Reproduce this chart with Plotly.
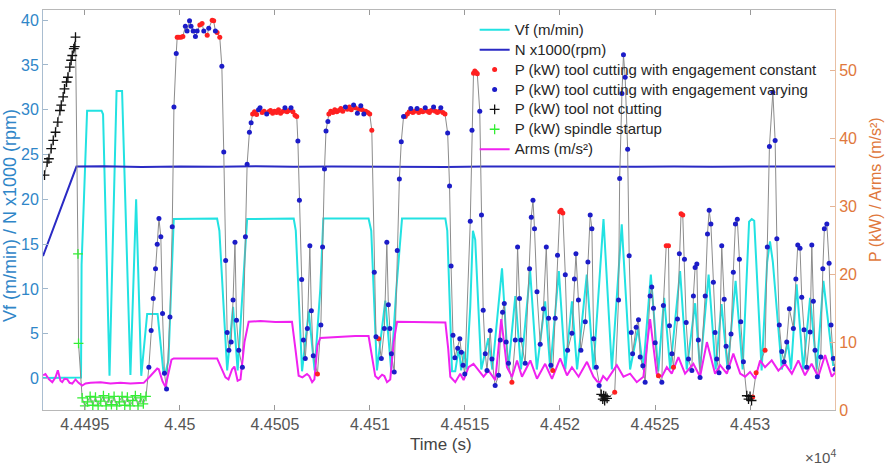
import plotly.graph_objects as go

T0 = 44490.0  # time origin (s); all times below are seconds after T0

x_tick_vals = [44495, 44500, 44505, 44510, 44515, 44520, 44525, 44530]
x_tick_text = ["4.4495", "4.45", "4.4505", "4.451", "4.4515", "4.452", "4.4525", "4.453"]
left_ticks = [0, 5, 10, 15, 20, 25, 30, 35, 40]
right_ticks = [0, 10, 20, 30, 40, 50]

# Spindle speed N x1000 (rpm)
n_t = [2.80, 4.56, 6.0, 8.0, 10.0, 12.0, 14.0, 16.0, 18.0, 20.0, 22.0, 24.0, 26.0, 28.0,
       30.0, 32.0, 34.0, 36.0, 38.0, 40.0, 42.0, 44.47]
n_v = [13.67, 23.66, 23.7, 23.62, 23.68, 23.64, 23.7, 23.63, 23.67, 23.65, 23.7, 23.62, 23.68,
       23.66, 23.64, 23.7, 23.65, 23.68, 23.63, 23.67, 23.65, 23.66]

# Feed rate Vf (m/min)
vf_t = [2.80, 4.77, 4.80, 4.83, 5.12, 5.88, 5.96, 6.30, 6.67, 6.96, 7.40, 7.70, 7.97, 8.28, 8.83,
        9.15, 9.24, 9.40, 9.68, 11.96, 12.08, 12.49, 12.80, 13.04, 13.24, 13.54, 15.99, 16.10,
        16.43, 16.78, 17.09, 17.39, 17.55, 19.93, 20.07, 20.37, 20.81, 21.12, 21.39, 21.69, 23.97,
        24.07, 24.32, 24.49, 24.68, 24.80, 24.96, 25.09, 25.28, 25.42, 25.54, 25.70, 25.86, 26.23,
        26.44, 26.95, 27.28, 27.65, 27.95, 28.43, 28.78, 29.22, 29.49, 29.94, 30.28, 30.63, 30.90,
        31.41, 31.76, 32.29, 32.73, 33.25, 33.69, 34.11, 34.38, 34.78, 35.17, 35.48, 35.80, 36.32,
        36.67, 37.11, 37.37, 37.82, 38.19, 38.50, 38.82, 39.24, 39.61, 39.95, 40.09, 40.22, 40.61,
        40.90, 41.05, 41.20, 41.67, 41.99, 42.16, 42.45, 42.80, 43.16, 43.51, 43.86, 44.37, 44.47]
vf_v = [0.05, 0.05, 0.1, 12.7, 29.9, 29.9, 29.5, 0.3, 32.1, 32.1, 0.4, 20.0, 0.3, 7.2, 7.2,
        0.4, 0.6, 2.0, 17.8, 17.85, 16.5, 0.9, 8.0, 0.9, 8.0, 17.8, 17.85, 16.5,
        0.8, 7.5, 0.9, 10.0, 17.85, 17.85, 16.5, 0.9, 8.7, 0.9, 10.0, 17.85, 17.85,
        16.5, 0.8, 0.8, 3.5, 0.9, 3.0, 1.0, 8.0, 16.5, 15.5, 8.0, 1.0, 4.5,
        1.0, 12.3, 1.0, 9.2, 1.0, 12.0, 1.0, 8.6, 1.0, 12.0, 1.0, 8.6, 1.0,
        11.6, 1.0, 17.8, 1.0, 17.2, 1.0, 5.6, 1.0, 11.6, 0.8, 9.0, 1.0, 12.0,
        1.0, 8.4, 1.0, 11.6, 1.0, 8.3, 1.0, 10.9, 1.0, 17.5, 17.8, 17.6, 0.9,
        13.0, 15.3, 13.0, 1.0, 4.0, 1.0, 10.5, 1.0, 9.0, 1.0, 10.9, 1.5, 1.5]

# Vibration Arms (m/s^2)
arms_t = [2.81, 2.93, 3.09, 3.29, 3.46, 3.58, 3.72, 3.81, 3.93, 4.07, 4.20, 4.34, 4.51, 4.67, 4.86,
          5.04, 5.30, 5.83, 6.35, 6.88, 7.40, 7.93, 8.10, 8.45, 8.81, 8.89, 9.09, 9.24, 9.40, 9.56,
          9.68, 10.56, 11.35, 11.96, 12.19, 12.40, 12.56, 12.75, 12.87, 13.04, 13.19, 13.40, 13.62,
          14.24, 15.03, 15.90, 16.08, 16.25, 16.45, 16.69, 16.81, 16.96, 17.08, 17.24, 17.39, 18.44,
          19.23, 19.93, 20.12, 20.28, 20.44, 20.64, 20.76, 20.90, 21.07, 21.25, 21.43, 22.65, 23.97,
          24.12, 24.23, 24.49, 24.75, 24.93, 25.19, 25.45, 25.72, 25.98, 26.24, 26.60, 26.91, 27.21,
          27.48, 27.74, 28.00, 28.44, 28.79, 29.22, 29.58, 30.01, 30.37, 30.63, 30.98, 31.42, 31.76,
          31.96, 32.12, 32.27, 32.47, 32.99, 33.34, 33.69, 34.04, 34.39, 34.74, 35.09, 35.36, 35.62,
          35.88, 36.23, 36.58, 37.02, 37.37, 37.73, 38.16, 38.43, 38.78, 39.12, 39.48, 39.74, 40.00,
          40.27, 40.53, 40.79, 41.14, 41.49, 41.84, 42.20, 42.54, 42.89, 43.24, 43.59, 43.95, 44.30,
          44.47]
arms_v = [5.1, 5.3, 4.6, 4.1, 4.8, 5.85, 4.3, 4.1, 4.6, 4.55, 4.0, 3.9, 4.5, 4.0, 3.6,
          3.9, 4.0, 4.1, 3.9, 4.0, 3.9, 4.0, 4.0, 5.0, 6.1, 6.0, 4.2, 3.4, 5.5, 7.4,
          7.6, 7.65, 7.6, 7.6, 6.0, 4.8, 4.5, 6.0, 6.4, 4.3, 4.5, 10.0, 13.0,
          13.1, 12.95, 13.0, 9.0, 5.05, 4.8, 5.3, 5.0, 4.1, 4.5, 9.5, 10.6, 10.8,
          10.9, 10.9, 8.0, 5.0, 4.6, 5.2, 5.0, 4.1, 4.5, 10.0, 13.0, 13.0, 12.9,
          9.0, 4.9, 4.1, 5.35, 4.4, 6.3, 6.8, 5.8, 4.9, 5.8, 4.4, 13.4, 6.3,
          4.9, 7.3, 4.9, 7.3, 4.6, 6.8, 4.6, 7.6, 5.1, 6.3, 4.9, 7.1, 4.9,
          4.2, 4.1, 5.0, 4.4, 6.6, 4.9, 5.35, 4.1, 4.9, 13.4, 5.35, 4.9, 6.3,
          5.35, 7.8, 5.35, 6.8, 4.9, 10.0, 5.35, 6.6, 5.35, 8.3, 5.35, 4.9, 5.6,
          4.6, 7.3, 6.3, 7.3, 5.8, 6.8, 5.35, 7.3, 5.1, 6.8, 4.9, 8.1, 4.9,
          5.5]

# P (kW): tool not cutting
pk_t = [2.88, 3.02, 3.11, 3.23, 3.34, 3.46, 3.58, 3.69, 3.76, 3.86, 3.93, 4.04, 4.11, 4.21, 4.28,
        4.34, 4.42, 4.47, 4.51, 32.17, 32.25, 32.30, 32.35, 32.41, 32.48, 39.83, 39.92, 40.00, 40.08]
pk_v = [34.6, 36.5, 37.0, 38.5, 39.7, 40.9, 42.4, 44.1, 44.9, 46.1, 47.3, 48.3, 49.0, 50.5, 51.5,
        52.2, 53.2, 53.5, 54.9, 2.3, 1.6, 2.1, 1.4, 2.0, 1.7, 2.1, 1.6, 2.0, 1.4]

# P (kW): spindle startup
pg_t = [4.64, 4.67, 4.86, 5.00, 5.14, 5.28, 5.42, 5.56, 5.70, 5.84, 5.98, 6.12, 6.26, 6.40, 6.54,
        6.68, 6.82, 6.96, 7.10, 7.24, 7.38, 7.52, 7.66, 7.80, 7.94, 8.08, 8.22]
pg_v = [23.0, 9.8, 1.8, 0.6, 1.2, 2.0, 0.7, 1.9, 0.6, 1.3, 2.1, 0.6, 1.8, 0.8, 2.0,
        0.6, 1.2, 2.0, 0.7, 1.9, 0.6, 1.4, 2.1, 0.6, 1.8, 0.9, 2.0]

# P (kW): tool cutting, engagement constant
pr_t = [9.86, 9.95, 10.06, 10.16, 11.05, 11.17, 11.44, 11.70, 11.78, 11.96, 12.10,
        13.83, 13.93, 14.04, 14.33, 14.43, 14.67, 14.77, 14.88, 14.98, 15.09, 15.19, 15.30, 15.43,
        15.64, 15.74, 15.95, 16.06, 16.15, 17.24,
        17.84, 17.94, 18.05, 18.15, 18.26, 18.36, 18.47, 18.57, 18.81, 18.92, 19.02, 19.23, 19.44,
        19.60, 19.78, 19.89, 19.99, 20.10, 20.46,
        21.86, 21.97, 22.07, 22.26, 22.36, 22.57, 22.68, 22.78, 23.02, 23.13, 23.23, 23.44, 23.55,
        23.65, 23.84, 23.95,
        25.45, 25.52, 25.59, 25.65, 27.47, 29.62, 29.99, 30.06, 30.15, 32.88, 35.18, 35.59, 35.71,
        35.97, 36.37, 36.46, 40.14, 40.32, 40.79]
pr_v = [54.9, 54.9, 54.9, 55.0, 56.7, 56.9, 55.2, 57.4, 57.3, 55.6, 54.9,
        43.6, 43.9, 43.5, 43.8, 44.0, 43.9, 44.1, 43.7, 44.0, 43.8, 44.2, 43.7, 44.0,
        43.9, 44.1, 43.9, 43.4, 43.2, 5.3,
        43.6, 44.0, 43.8, 44.2, 43.9, 44.1, 44.4, 44.0, 44.3, 44.6, 44.2, 44.5, 44.3,
        44.2, 44.0, 43.8, 43.6, 41.2, 10.5,
        43.2, 43.6, 43.9, 43.8, 44.0, 43.8, 44.1, 43.9, 44.0, 43.8, 44.1, 44.0, 43.8,
        44.0, 43.8, 43.6,
        49.6, 49.9, 49.7, 49.5, 4.1, 5.8, 29.2, 29.4, 29.0, 2.6, 5.05, 24.2, 24.2,
        6.3, 28.9, 28.7, 1.9, 5.5, 8.8]

# P (kW): tool cutting, engagement varying
pb_t = [8.37, 8.49, 8.60, 8.72, 8.81, 8.90, 9.00, 9.09, 9.19, 9.30, 9.48, 9.60, 9.69, 9.81,
        10.29, 10.38, 10.51, 10.59, 10.70, 10.82, 10.91, 11.26, 11.52, 11.87,
        12.21, 12.31, 12.41, 12.49, 12.58, 12.70, 12.80, 12.90, 12.98, 13.10, 13.29, 13.45, 13.54,
        13.66, 13.75, 14.14, 14.22, 14.57, 15.53, 15.85,
        16.21, 16.29, 16.41, 16.50, 16.60, 16.71, 16.84, 16.92, 17.02, 17.42, 17.51, 17.61, 17.69,
        17.79, 18.71, 19.14, 19.34, 19.52, 19.68,
        20.23, 20.32, 20.60, 20.76, 20.89, 20.97, 21.05, 21.13, 21.28, 21.44, 21.55, 21.65, 21.77,
        22.15, 22.48, 22.91, 23.35, 23.73,
        24.09, 24.19, 24.27, 24.37, 24.47, 24.62, 24.73, 24.81, 24.90, 24.99, 25.28, 25.37, 25.78,
        25.87, 25.96, 26.07, 26.16, 26.33, 26.42, 26.59, 26.77, 26.86, 26.98, 27.07, 27.17, 27.29,
        27.65, 27.77, 27.87, 27.95, 28.17, 28.40, 28.49, 28.58, 28.66, 28.79, 28.96, 29.13, 29.28,
        29.40, 29.52, 29.75, 29.87, 30.28, 30.40, 30.63, 30.76, 30.84, 30.97, 31.10, 31.33, 31.47,
        31.59, 31.68, 31.77, 31.91, 32.06,
        33.08, 33.14, 33.26, 33.34, 33.43, 33.56, 33.64, 33.75, 33.82, 34.01, 34.13, 34.22, 34.36,
        34.48, 34.74, 34.83, 34.92, 35.01, 35.36, 35.44, 35.76, 35.89, 36.18, 36.28, 36.55, 36.64,
        36.76, 36.94, 37.02, 37.11, 37.20, 37.28, 37.37, 37.64, 37.76, 37.85, 37.94, 38.07, 38.16,
        38.25, 38.37, 38.51, 38.64, 38.74, 38.86, 39.00, 39.12, 39.23, 39.33, 39.44, 39.51, 39.65,
        40.91, 41.02, 41.20, 41.32, 41.41, 41.54, 41.67, 41.79, 41.93, 42.07, 42.28, 42.41, 42.51,
        42.63, 42.72, 42.84, 42.98, 43.16, 43.25, 43.33, 43.42, 43.54, 43.72, 43.83, 43.91, 44.04,
        44.16, 44.26, 44.38, 44.47]
pb_v = [6.3, 11.7, 16.4, 20.8, 24.4, 28.2, 25.5, 14.2, 5.4, 3.1, 13.7, 27.0, 44.6, 52.5,
        56.5, 55.8, 57.3, 56.5, 55.8, 55.0, 55.8, 55.8, 56.2, 55.8,
        50.6, 38.0, 22.0, 11.4, 8.8, 10.0, 16.2, 24.7, 13.2, 8.8, 6.3, 25.5, 36.2,
        40.9, 42.3, 44.2, 44.5, 43.6, 44.5, 44.5,
        39.6, 30.9, 19.2, 10.3, 7.6, 12.0, 24.2, 14.6, 8.0, 12.5, 24.0, 35.5, 41.1,
        42.5, 44.6, 44.9, 43.7, 44.8, 43.6,
        20.3, 10.8, 7.6, 12.0, 24.7, 15.5, 12.0, 8.3, 5.6, 23.5, 34.0, 39.5, 43.2,
        44.4, 44.4, 44.5, 44.6, 44.5,
        40.8, 33.0, 21.2, 11.0, 7.7, 9.1, 10.5, 8.5, 6.6, 5.3, 27.8, 41.2, 44.0,
        28.7, 14.7, 8.3, 5.8, 11.7, 7.5, 3.6, 5.1, 10.3, 14.4, 15.7, 10.0, 6.9,
        10.3, 24.0, 16.4, 10.3, 6.9, 20.8, 28.4, 30.9, 26.7, 17.4, 9.7, 14.9, 24.0,
        13.5, 6.6, 13.5, 22.8, 19.9, 8.8, 11.3, 19.3, 23.0, 16.2, 8.8, 13.0, 21.8,
        28.7, 26.7, 10.5, 6.3, 3.6,
        16.2, 34.1, 46.6, 52.3, 49.0, 38.4, 22.7, 11.4, 8.3, 12.2, 13.3, 7.8, 6.5,
        4.1, 16.8, 18.1, 15.0, 9.9, 4.1, 15.4, 12.4, 8.3, 13.4, 23.0, 22.2, 12.9,
        7.5, 5.8, 16.8, 21.0, 21.5, 10.3, 4.8, 16.8, 25.9, 29.4, 27.4, 18.8, 11.4,
        7.5, 5.5, 24.2, 16.3, 9.4, 6.3, 11.2, 20.3, 27.4, 28.1, 22.2, 13.0, 7.1,
        24.0, 38.8, 46.8, 39.7, 25.2, 12.5, 8.6, 7.1, 10.0, 14.9, 12.0, 19.3, 24.3,
        23.8, 16.6, 11.8, 6.3, 11.5, 24.3, 16.0, 8.8, 4.9, 7.8, 20.8, 26.7, 27.4,
        21.6, 12.5, 7.6, 6.0]

# Continuous P signal through all samples (time-ordered)
p_all = sorted(list(zip(pk_t, pk_v)) + list(zip(pg_t, pg_v)) +
               list(zip(pr_t, pr_v)) + list(zip(pb_t, pb_v)))

legend_names = ["Vf (m/min)", "N x1000(rpm)",
                "P (kW) tool cutting with engagement constant",
                "P (kW) tool cutting with engagement varying",
                "P (kW) tool not cutting", "P (kW) spindle startup", "Arms (m/s²)"]


def abs_t(ts):
    return [T0 + t for t in ts]


def lname(i):
    # legend row height follows legend font size (13); text drawn slightly larger
    return '<span style="font-size:15px">' + legend_names[i] + '</span>'


LEFT_COL = "#2f86c8"
RIGHT_COL = "#e0783c"
FONT = "Liberation Sans, Arial, sans-serif"

fig = go.Figure()
fig.add_trace(go.Scatter(x=abs_t(vf_t), y=vf_v, mode="lines", name=lname(0),
                         line=dict(color="#22e2e2", width=2), yaxis="y", legendrank=1))
fig.add_trace(go.Scatter(x=abs_t(n_t), y=n_v, mode="lines", name=lname(1),
                         line=dict(color="#2a2ac4", width=2), yaxis="y", legendrank=2))
fig.add_trace(go.Scatter(x=abs_t([p[0] for p in p_all]), y=[p[1] for p in p_all],
                         mode="lines", line=dict(color="#8c8c8c", width=1),
                         yaxis="y2", showlegend=False, hoverinfo="skip"))
fig.add_trace(go.Scatter(x=abs_t(arms_t), y=arms_v, mode="lines", name=lname(6),
                         line=dict(color="#f022f0", width=2), yaxis="y2", legendrank=7))
fig.add_trace(go.Scatter(x=abs_t(pr_t), y=pr_v, mode="markers", name=lname(2),
                         marker=dict(color="#ff2020", size=5), yaxis="y2", legendrank=3))
fig.add_trace(go.Scatter(x=abs_t(pb_t), y=pb_v, mode="markers", name=lname(3),
                         marker=dict(color="#1c1cc8", size=5), yaxis="y2", legendrank=4))
fig.add_trace(go.Scatter(x=abs_t(pk_t), y=pk_v, mode="markers", name=lname(4),
                         marker=dict(symbol="cross-thin", size=7, color="#111111",
                                     line=dict(color="#111111", width=1.3)),
                         yaxis="y2", legendrank=5))
fig.add_trace(go.Scatter(x=abs_t(pg_t), y=pg_v, mode="markers", name=lname(5),
                         marker=dict(symbol="cross-thin", size=7, color="#33ee33",
                                     line=dict(color="#33ee33", width=1.3)),
                         yaxis="y2", legendrank=6))

fig.update_layout(
    width=887, height=466,
    margin=dict(l=43, r=52, t=10, b=56),
    paper_bgcolor="white", plot_bgcolor="white",
    font=dict(family=FONT, size=15, color="#333333"),
    showlegend=True,
    legend=dict(x=0.545, y=0.988, xanchor="left", yanchor="top",
                bgcolor="rgba(0,0,0,0)", borderwidth=0,
                font=dict(size=13, color="#262626"), itemwidth=30),
    xaxis=dict(range=[T0 + 2.80, T0 + 44.47], tickvals=x_tick_vals, ticktext=x_tick_text,
               ticks="inside", ticklen=5, tickcolor="#999999", showline=True,
               linecolor="#b8b8b8", linewidth=1, mirror="ticks", showgrid=False,
               zeroline=False, tickfont=dict(size=16, color="#555555")),
    yaxis=dict(range=[-3.52, 41.14], tickvals=left_ticks, ticks="inside", ticklen=5,
               tickcolor="#9fb7cc", showline=True, linecolor="#a9bdd0", linewidth=1,
               showgrid=False, zeroline=False,
               tickfont=dict(size=16, color=LEFT_COL)),
    yaxis2=dict(range=[0, 58.9], tickvals=right_ticks, ticks="inside", ticklen=5,
                tickcolor="#e6b494", overlaying="y", side="right", showline=True,
                linecolor="#e8c0a4", linewidth=1, showgrid=False, zeroline=False,
                tickfont=dict(size=16, color=RIGHT_COL)),
    annotations=[
        dict(text="Vf (m/min) / N x1000 (rpm)", xref="paper", yref="paper",
             x=-0.0417, y=0.4875, textangle=-90, showarrow=False,
             font=dict(size=18, color=LEFT_COL), xanchor="center", yanchor="middle"),
        dict(text="P (kW) / Arms (m/s²)", xref="paper", yref="paper",
             x=1.0505, y=0.5525, textangle=-90, showarrow=False,
             font=dict(size=16, color=RIGHT_COL), xanchor="center", yanchor="middle"),
        dict(text="Time (s)", xref="paper", yref="paper", x=0.503, y=-0.085,
             showarrow=False, font=dict(size=17, color="#444444"),
             xanchor="center", yanchor="middle"),
        dict(text="×10<sup>4</sup>", xref="paper", yref="paper", x=1.004, y=-0.115,
             showarrow=False, font=dict(size=15, color="#555555"),
             xanchor="right", yanchor="middle"),
    ],
)

fig.write_html("out.html")
